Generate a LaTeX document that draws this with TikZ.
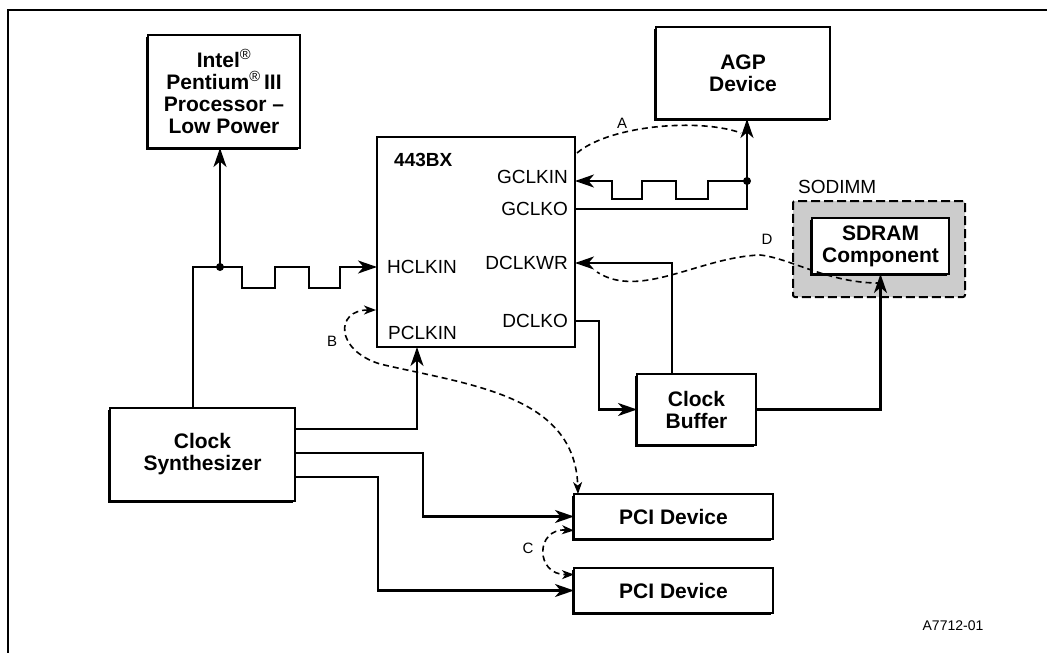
\documentclass[tikz,border=0pt]{standalone}
\usepackage{fontspec}
\setmainfont{Liberation Sans}
\usetikzlibrary{arrows.meta,shadows,calc}

\begin{document}
\begin{tikzpicture}[x=1pt,y=-1pt,
  box/.style={draw, line width=2.2pt, fill=white, inner sep=0pt, outer sep=0pt,
    align=center, font=\fontsize{21}{22}\selectfont\bfseries,
    drop shadow={shadow xshift=-1.8pt, shadow yshift=-1.8pt, fill=black, opacity=1}},
  port/.style={inner sep=0pt, font=\fontsize{19}{20}\selectfont},
  wire/.style={line width=2.1pt},
  sig/.style={wire, -{Stealth[length=19pt,width=13pt,inset=5.5pt]}},
  skew/.style={line width=1.6pt, dash pattern=on 6pt off 4pt},
  skewtip/.style={skew, {Stealth[length=12pt,width=9pt,inset=3.5pt]}-{Stealth[length=12pt,width=9pt,inset=3.5pt]}},
  tag/.style={inner sep=0pt, font=\fontsize{15}{16}\selectfont},
  dot/.style={circle, fill=black, inner sep=0pt, minimum size=8pt}]

\useasboundingbox (0,0) rectangle (1047,653);
% frame (top and left only)
\draw[line width=2.6pt] (8,653) -- (8,10) -- (1047,10);

% blocks
\node[box, minimum width=152, minimum height=113] (cpu) at (224,91.5)
  {Intel\textsuperscript{\mdseries ®}\\Pentium\textsuperscript{\mdseries ®}\,III\\Processor --\\Low Power};
\node[box, minimum width=174, minimum height=92] (agp) at (743,73) {AGP\\Device};
\node[draw, line width=2.2pt, inner sep=0pt, outer sep=0pt,
  minimum width=198, minimum height=210] (chip) at (476,242) {};
\node[draw, fill=black!20, line width=2pt, dash pattern=on 9pt off 4pt,
  rounded corners=2pt, inner sep=0pt, minimum width=172, minimum height=96] (sodimm) at (879,249) {};
\node[port, anchor=base west] (sodlbl) at ($(sodimm.north west)+(6,-7)$) {SODIMM};
\node[box, minimum width=137, minimum height=56] (sdram) at (880.5,246) {SDRAM\\Component};
\node[box, minimum width=119, minimum height=71] (buf) at (696.5,409.5) {Clock\\Buffer};
\node[box, minimum width=185, minimum height=93] (synth) at (202.5,454.5) {Clock\\Synthesizer};
\node[box, minimum width=199, minimum height=45] (pci1) at (673.5,516.5) {PCI Device};
\node[box, minimum width=199, minimum height=45] (pci2) at (673.5,590.5) {PCI Device};

% 443BX pins
\node[port, font=\fontsize{19}{20}\selectfont\bfseries, anchor=west] (chipname) at (394,160) {443BX};
\node[port, anchor=east] (gclkin) at (568,177) {GCLKIN};
\node[port, anchor=east] (gclko) at (568,209) {GCLKO};
\node[port, anchor=east] (dclkwr) at (568,263) {DCLKWR};
\node[port, anchor=east] (dclko) at (568,321) {DCLKO};
\node[port, anchor=west] (hclkin) at (387,267) {HCLKIN};
\node[port, anchor=west] (pclkin) at (388,333) {PCLKIN};

% host clock: synthesizer to CPU and HCLKIN
\coordinate (hx) at (193,267);
\coordinate (hsplit) at (220,267);
\draw[wire] (hx |- synth.north) -- (hx) -- (hsplit);
\draw[sig] (hsplit) -- (cpu.south -| hsplit);
\draw[sig] (hsplit) -- (242,267) -- (242,288) -- (275,288) -- (275,267)
  -- (309,267) -- (309,288) -- (340,288) -- (340,267) -- (chip.west |- hsplit);

% AGP clock: GCLKO back to GCLKIN and to AGP
\coordinate (gsplit) at (747,181);
\draw[wire] (chip.east |- gclko) -- (gsplit |- gclko) -- (gsplit);
\draw[sig] (gsplit) -- (agp.south -| gsplit);
\draw[sig] (gsplit) -- (708,181) -- (708,199) -- (676,199) -- (676,181)
  -- (642,181) -- (642,199) -- (612,199) -- (612,181) -- (chip.east |- gsplit);

% SDRAM clock through the buffer
\draw[sig] (chip.east |- dclko) -- (599,321) |- (buf.west);
\draw[sig] ($(buf.north)+(-24.5,0)$) |- (chip.east |- dclkwr);
\draw[sig] (buf.east) -| (sdram.south);

% PCI clocks
\draw[sig] ($(synth.north east)+(0,21)$) -| ($(chip.south west)+(40,0)$);
\draw[sig] ($(synth.north east)+(0,45)$) -| ($(pci1.west)+(-151,0)$) -- (pci1.west);
\draw[sig] ($(synth.north east)+(0,69)$) -| ($(pci2.west)+(-196,0)$) -- (pci2.west);

\node[dot] (hdot) at (hsplit) {};
\node[dot] (gdot) at (gsplit) {};

% skew paths
\draw[skew] ($(chip.north east)+(2,16)$) .. controls (610,125) and (700,118) .. (741,133);
\node[tag] (ta) at (622,123) {A};
\draw[skewtip] ($(chip.south west)+(-1,-37)$) .. controls (335,310) and (335,350) .. (380,364)
  .. controls (470,385) and (575,395) .. ($(pci1.north west)+(4,0)$);
\node[tag] (tb) at (332,341) {B};
\draw[skewtip] ($(pci1.west)+(0,14)$) .. controls (535,528) and (535,575) .. ($(pci2.west)+(0,-16)$);
\node[tag] (tc) at (528,548) {C};
\draw[skew] ($(sdram.south)+(1,9)$) .. controls (830,284) and (790,258) .. (760,255)
  .. controls (700,257) and (640,300) .. ($(chip.east |- dclkwr)+(22,9)$);
\node[tag] (td) at (767,239) {D};

\node[inner sep=0pt, font=\fontsize{14}{15}\selectfont] (figno) at (953,626) {A7712-01};

\end{tikzpicture}
\end{document}
